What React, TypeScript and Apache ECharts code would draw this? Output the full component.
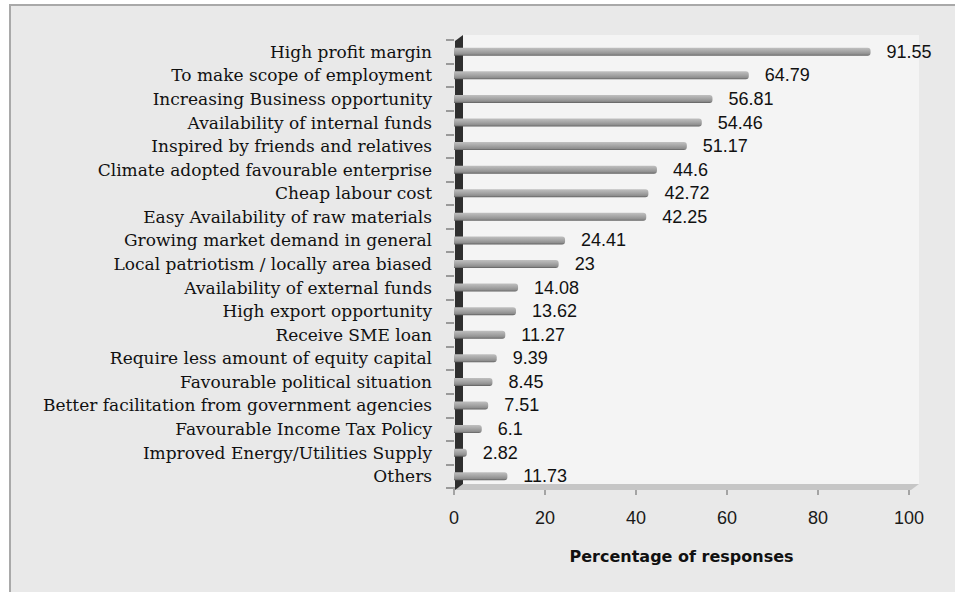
import React, { useEffect, useRef } from "react";
import * as echarts from "echarts";

// Reasons for starting an enterprise, top to bottom
const categories = [
  "High profit margin",
  "To make scope of employment",
  "Increasing Business opportunity",
  "Availability of internal funds",
  "Inspired by friends and relatives",
  "Climate adopted favourable enterprise",
  "Cheap labour cost",
  "Easy Availability of raw materials",
  "Growing market demand in general",
  "Local patriotism / locally area biased",
  "Availability of external funds",
  "High export opportunity",
  "Receive SME loan",
  "Require less amount of equity capital",
  "Favourable political situation",
  "Better facilitation from government agencies",
  "Favourable Income Tax Policy",
  "Improved Energy/Utilities Supply",
  "Others",
];

const percentages = [
  91.55, 64.79, 56.81, 54.46, 51.17, 44.6, 42.72, 42.25, 24.41, 23, 14.08, 13.62,
  11.27, 9.39, 8.45, 7.51, 6.1, 2.82, 11.73,
];

const xTicks = [0, 20, 40, 60, 80, 100];

const W = 955;
const H = 592;
const GRID = { left: 454, right: 46, top: 40, bottom: 104 };

export default function App() {
  const ref = useRef<HTMLDivElement>(null);

  useEffect(() => {
    if (!ref.current) return;
    const chart = echarts.init(ref.current, undefined, { renderer: "svg" });

    const x0 = GRID.left;
    const x1 = W - GRID.right;
    const yTop = GRID.top;
    const yBot = H - GRID.bottom;
    const depth = 8;

    chart.setOption({
      animation: false,
      backgroundColor: "#ffffff",
      graphic: [
        // outer panel
        {
          type: "rect",
          z: -20,
          shape: { x: 10, y: 5, width: W, height: H },
          style: { fill: "#e9e9e9", stroke: "#a9a9a9", lineWidth: 2 },
        },
        // back wall of the plot
        {
          type: "rect",
          z: -10,
          shape: { x: x0 + depth, y: yTop - 5, width: x1 - x0 + 2, height: yBot - yTop + 1 },
          style: { fill: "#f4f4f4" },
        },
        // floor strip
        {
          type: "polygon",
          z: 1,
          shape: {
            points: [
              [x0 + 1, yBot + 2],
              [x0 + depth + 1, yBot - 4],
              [x1 + depth + 2, yBot - 4],
              [x1 + 2, yBot + 2],
            ],
          },
          style: { fill: "#c6c6c6" },
        },
        // dark side wall
        {
          type: "polygon",
          z: 1,
          shape: {
            points: [
              [x0 + 1, yTop + 1],
              [x0 + depth + 1, yTop - 5],
              [x0 + depth + 1, yBot - 4],
              [x0 + 1, yBot + 2],
            ],
          },
          style: { fill: "#2f2f2f" },
        },
      ],
      grid: {
        left: GRID.left,
        right: GRID.right,
        top: GRID.top,
        bottom: GRID.bottom,
        containLabel: false,
      },
      xAxis: {
        type: "value",
        min: 0,
        max: 100,
        interval: 20,
        name: "Percentage of responses",
        nameLocation: "middle",
        nameGap: 60,
        nameTextStyle: {
          fontFamily: "DejaVu Sans",
          fontWeight: "bold",
          fontSize: 16,
          color: "#111",
        },
        axisLine: { show: true, lineStyle: { color: "#a4a4a4", width: 2 } },
        axisTick: { show: true, length: 7, lineStyle: { color: "#a4a4a4", width: 2 } },
        splitLine: { show: false },
        axisLabel: {
          margin: 21,
          fontFamily: "Liberation Sans",
          fontSize: 18,
          color: "#1a1a1a",
          formatter: (v: number) => (xTicks.includes(v) ? String(v) : ""),
        },
      },
      yAxis: {
        type: "category",
        data: categories,
        inverse: true,
        axisLine: { show: false },
        axisTick: {
          show: true,
          inside: false,
          length: 8,
          lineStyle: { color: "#9a9a9a", width: 2 },
        },
        axisLabel: {
          margin: 22,
          fontFamily: "DejaVu Serif",
          fontSize: 17,
          color: "#111",
        },
        splitLine: { show: false },
      },
      series: [
        {
          type: "bar",
          data: percentages,
          barWidth: 8,
          z: 3,
          itemStyle: {
            borderRadius: [0, 3, 3, 0],
            color: new echarts.graphic.LinearGradient(0, 0, 0, 1, [
              { offset: 0, color: "#c0c0c0" },
              { offset: 0.5, color: "#a2a2a2" },
              { offset: 0.8, color: "#8e8e8e" },
              { offset: 1, color: "#5e5e5e" },
            ]),
          },
          label: {
            show: true,
            position: "right",
            distance: 16,
            fontFamily: "Liberation Sans",
            fontSize: 18,
            color: "#111",
          },
        },
      ],
    });

    return () => chart.dispose();
  }, []);

  return (
    <div
      ref={ref}
      style={{ position: "fixed", left: 0, top: 0, width: W, height: H }}
    />
  );
}
